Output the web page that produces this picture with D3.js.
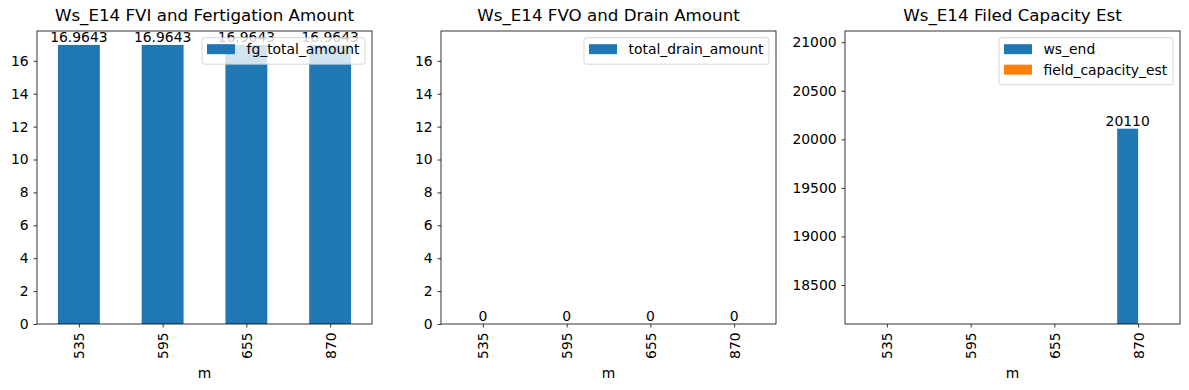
<html>
  <head>
    <meta charset="utf-8">
    <script src="https://cdn.jsdelivr.net/npm/d3@7"></script>
    <style>
      body { margin: 0; background: #fff; }
      text { font-family: "DejaVu Sans", sans-serif; fill: #000; }
    </style>
  </head>
  <body>
    <script>
      var W = 1189, H = 390;

      // data
      var categories = ["535", "595", "655", "870"];
      var fgTotalAmount = [16.9643, 16.9643, 16.9643, 16.9643];
      var totalDrainAmount = [0, 0, 0, 0];
      var wsEnd = [null, null, null, 20110];
      var fieldCapacityEst = [null, null, null, null];

      var ticksLeft = [0, 2, 4, 6, 8, 10, 12, 14, 16];
      var ticksCap = [18500, 19000, 19500, 20000, 20500, 21000];

      var blue = "#1f77b4", orange = "#ff7f0e";
      var fmt = d3.format("~g");

      var svg = d3.select("body").append("svg")
        .attr("width", W).attr("height", H);

      // "top" is taken by window.top, so use other names
      var plotTop = 31, plotBottom = 324;

      var panels = [
        { left: 37, right: 372, title: "Ws_E14 FVI and Fertigation Amount",
          domain: [0, 16.9643 * 1.05], ticks: ticksLeft,
          series: [{ name: "fg_total_amount", values: fgTotalAmount, color: blue }],
          legendW: 163 },
        { left: 441, right: 776, title: "Ws_E14 FVO and Drain Amount",
          domain: [0, 16.9643 * 1.05], ticks: ticksLeft,
          series: [{ name: "total_drain_amount", values: totalDrainAmount, color: blue }],
          legendW: 185 },
        { left: 845, right: 1180, title: "Ws_E14 Filed Capacity Est",
          domain: [20110 * 0.9, 20110 * 1.05], ticks: ticksCap,
          series: [{ name: "ws_end", values: wsEnd, color: blue },
                   { name: "field_capacity_est", values: fieldCapacityEst, color: orange }],
          legendW: 174 }
      ];

      panels.forEach(function(p, pi) {
        var g = svg.append("g");
        var x = d3.scaleLinear().domain([-0.5, categories.length - 0.5]).range([p.left, p.right]);
        var y = d3.scaleLinear().domain(p.domain).range([plotBottom, plotTop]);

        var clipId = "clip" + pi;
        g.append("clipPath").attr("id", clipId).append("rect")
          .attr("x", p.left).attr("y", plotTop)
          .attr("width", p.right - p.left).attr("height", plotBottom - plotTop);

        var n = p.series.length;
        var bw = 0.5 / n;

        p.series.forEach(function(s, si) {
          var data = s.values.map(function(v, i) { return { i: i, v: v }; })
            .filter(function(d) { return d.v != null; });
          var off = -0.25 + si * bw;

          // bars start at 0, the clip cuts them at the axis frame
          g.append("g").attr("clip-path", "url(#" + clipId + ")")
            .selectAll("rect").data(data).enter().append("rect")
              .attr("x", function(d) { return x(d.i + off); })
              .attr("width", function(d) { return x(d.i + off + bw) - x(d.i + off); })
              .attr("y", function(d) { return y(d.v); })
              .attr("height", function(d) { return y(0) - y(d.v); })
              .attr("fill", s.color);

          g.selectAll(".lbl" + si).data(data).enter().append("text")
            .attr("class", "lbl" + si)
            .attr("x", function(d) { return x(d.i + off + bw / 2); })
            .attr("y", function(d) { return y(d.v) - 3; })
            .attr("text-anchor", "middle")
            .attr("font-size", "13.9px")
            .text(function(d) { return fmt(d.v); });
        });

        // y axis
        var yAxis = d3.axisLeft(y).tickValues(p.ticks).tickSize(3.5).tickPadding(4.9)
          .tickFormat(fmt);
        var ya = g.append("g").attr("transform", "translate(" + p.left + ",0)").call(yAxis);
        ya.select(".domain").remove();
        ya.selectAll("line").attr("stroke", "#000").attr("stroke-width", 0.8);
        ya.selectAll("text").attr("font-size", "13.9px").attr("font-family", "DejaVu Sans").attr("fill", "#000");

        // x axis
        var xAxis = d3.axisBottom(x).tickValues(d3.range(categories.length))
          .tickSize(3.5).tickPadding(4.9)
          .tickFormat(function(i) { return categories[i]; });
        var xa = g.append("g").attr("transform", "translate(0," + plotBottom + ")").call(xAxis);
        xa.select(".domain").remove();
        xa.selectAll("line").attr("stroke", "#000").attr("stroke-width", 0.8);
        xa.selectAll("text")
          .attr("font-size", "13.9px").attr("font-family", "DejaVu Sans").attr("fill", "#000")
          .attr("text-anchor", "end")
          .attr("transform", "rotate(-90)")
          .attr("x", -8.4).attr("y", 0).attr("dy", "0.35em");

        // frame
        g.append("rect").attr("x", p.left).attr("y", plotTop)
          .attr("width", p.right - p.left).attr("height", plotBottom - plotTop)
          .attr("fill", "none").attr("stroke", "#000").attr("stroke-width", 0.8);

        // title and x label
        g.append("text").attr("x", (p.left + p.right) / 2).attr("y", 21)
          .attr("text-anchor", "middle").attr("font-size", "16.7px").text(p.title);
        g.append("text").attr("x", (p.left + p.right) / 2).attr("y", 378)
          .attr("text-anchor", "middle").attr("font-size", "13.9px").text("m");

        // legend
        var lx = p.right - 7 - p.legendW, ly = plotTop + 6.7;
        var lh = 6 + n * 20.5;
        var leg = g.append("g");
        leg.append("rect").attr("x", lx).attr("y", ly).attr("width", p.legendW).attr("height", lh)
          .attr("rx", 2.5).attr("fill", "#fff").attr("fill-opacity", 0.8)
          .attr("stroke", "#ccc").attr("stroke-opacity", 0.8).attr("stroke-width", 1);
        p.series.forEach(function(s, si) {
          var cy = ly + 11.5 + si * 20.5;
          leg.append("rect").attr("x", lx + 5).attr("y", cy - 5).attr("width", 28).attr("height", 10)
            .attr("fill", s.color);
          leg.append("text").attr("x", lx + 44.5).attr("y", cy).attr("dy", "0.35em")
            .attr("font-size", "13.9px").text(s.name);
        });
      });
    </script>
  </body>
</html>
